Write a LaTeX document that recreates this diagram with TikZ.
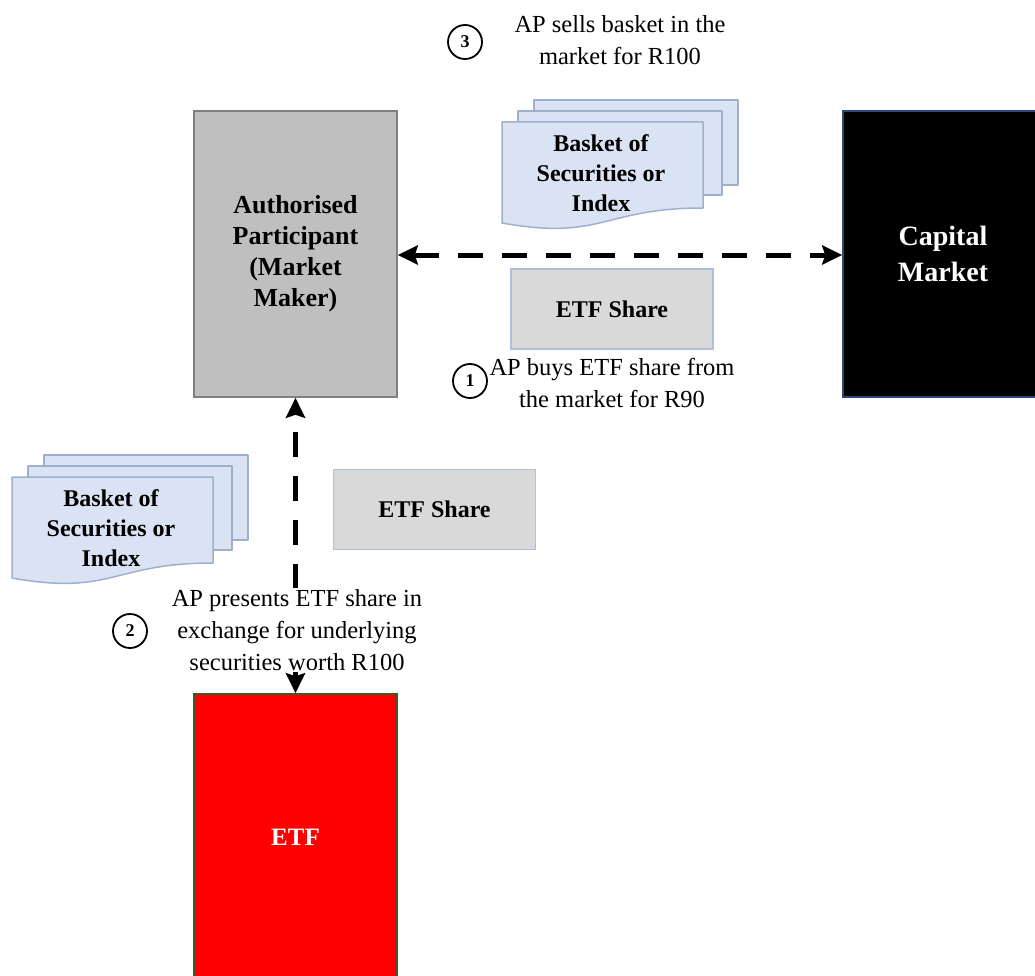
\documentclass[tikz,border=0pt]{standalone}
\usepackage{fontspec}
\setmainfont{Liberation Serif}
\usetikzlibrary{arrows.meta}

\definecolor{apgray}{RGB}{191,191,191}
\definecolor{apedge}{RGB}{128,128,128}
\definecolor{sharefill}{RGB}{217,217,217}
\definecolor{shareedge}{RGB}{176,192,220}
\definecolor{sheetfill}{RGB}{218,227,243}
\definecolor{sheetedge}{RGB}{160,176,204}
\definecolor{cmedge}{RGB}{47,72,120}
\definecolor{etfedge}{RGB}{56,92,40}

\tikzset{
  party/.style={rectangle, minimum width=203pt, inner sep=2pt, align=center,
    font=\bfseries\fontsize{26}{31}\selectfont, line width=1.5pt},
  sharebox/.style={rectangle, draw=shareedge, fill=sharefill, line width=1.5pt,
    minimum width=202pt, minimum height=80pt,
    font=\bfseries\fontsize{24}{30}\selectfont},
  sheet/.style={draw=sheetedge, fill=sheetfill, line width=1.5pt, line join=round},
  basket/.style={align=center, inner sep=0pt, font=\bfseries\fontsize{24}{30}\selectfont},
  note/.style={align=center, inner sep=1pt, font=\fontsize{24.5}{32}\selectfont},
  stepno/.style={circle, draw, line width=1.8pt, minimum size=34pt, inner sep=0pt,
    font=\bfseries\fontsize{18}{18}\selectfont},
  flow/.style={line width=5pt, dash pattern=on 25pt off 19pt,
    {Stealth[length=20pt,width=19pt,inset=3pt]}-{Stealth[length=20pt,width=19pt,inset=3pt]}},
  docstack/.pic={
    \path[sheet] (32,-22) rectangle (236,63);
    \path[sheet] (16,-11) rectangle (220,73);
    \path[sheet] (0,0) -- (201,0) -- (201,86)
      .. controls (100.5,86) and (100.5,119) .. (0,101) -- cycle;
  }
}

\begin{document}
\begin{tikzpicture}[x=1pt, y=-1pt]
  \useasboundingbox (0,0) rectangle (1035,976);

  % the three parties
  \node[party, draw=apedge, fill=apgray, minimum height=286pt] (ap) at (295.5,254)
    {Authorised\\Participant\\(Market\\Maker)};
  \node[party, draw=cmedge, fill=black, text=white, minimum width=200pt,
    minimum height=286pt, font=\bfseries\fontsize{28}{36}\selectfont] (cm) at (943,254)
    {Capital\\Market};
  \node[party, draw=etfedge, fill=red, text=white, minimum height=286pt,
    font=\bfseries\fontsize{25}{30}\selectfont] (etf) at (295.5,837) {ETF};

  % baskets of securities
  \pic at (502,122) {docstack};
  \node[basket] (basket1) at (601,173) {Basket of\\Securities or\\Index};
  \pic at (12,477) {docstack};
  \node[basket] (basket2) at (111,528) {Basket of\\Securities or\\Index};

  % ETF shares
  \node[sharebox] (share1) at (612,309) {ETF Share};
  \node[sharebox] (share2) at (434.5,509.5) {ETF Share};

  % flows
  \draw[flow] (ap.east |- 0,255) -- (cm.west |- 0,255);
  \draw[flow] (etf.north) -- (ap.south);

  % step labels
  \node[stepno] (s3) at (465,42) {3};
  \node[note] (n3) at (620,40) {AP sells basket in the\\market for R100};
  \node[stepno] (s1) at (470,381) {1};
  \node[note] (n1) at (612,383) {AP buys ETF share from\\the market for R90};
  \node[stepno] (s2) at (130,631) {2};
  \node[note, fill=white] (n2) at (297,630)
    {AP presents ETF share in\\exchange for underlying\\securities worth R100};
\end{tikzpicture}
\end{document}
